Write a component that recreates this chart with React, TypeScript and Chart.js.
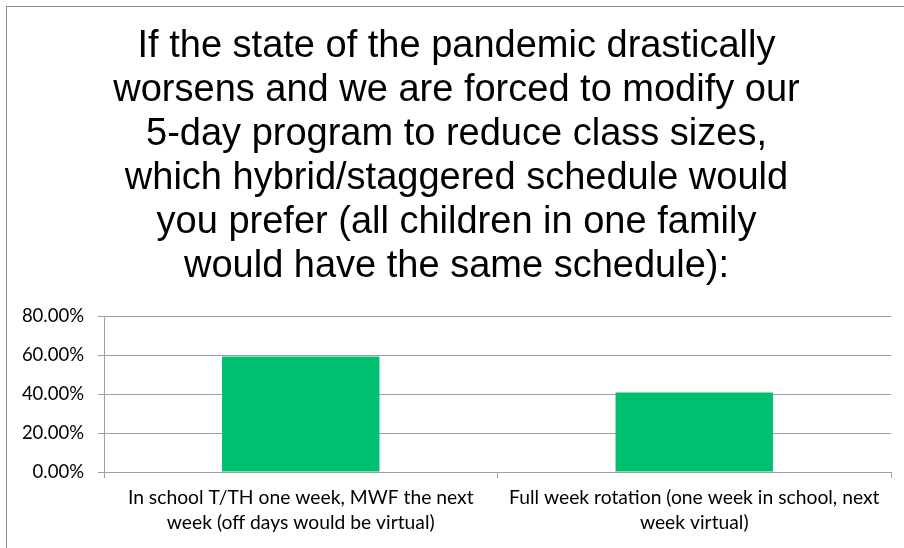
import React, { useEffect, useRef } from "react";
import { Chart, registerables } from "chart.js";

Chart.register(...registerables);

const titleLines = [
  "If the state of the pandemic drastically",
  "worsens and we are forced to modify our",
  "5-day program to reduce class sizes,",
  "which hybrid/staggered schedule would",
  "you prefer (all children in one family",
  "would have the same schedule):",
];

const categories: string[][] = [
  ["In school T/TH one week, MWF the next", "week (off days would be virtual)"],
  ["Full week rotation (one week in school, next", "week virtual)"],
];

const percentValues = [59.26, 40.74];

const yTickMax = 80;
const yTickStep = 20;

export default function App() {
  const canvasRef = useRef<HTMLCanvasElement | null>(null);

  useEffect(() => {
    const canvas = canvasRef.current;
    if (!canvas) return;
    const gridColor = "#a0a0a0";
    const chart = new Chart(canvas, {
      type: "bar",
      data: {
        labels: categories,
        datasets: [
          {
            data: percentValues,
            backgroundColor: "#00BF6F",
            borderWidth: 0,
            barPercentage: 0.4,
            categoryPercentage: 1,
          },
        ],
      },
      options: {
        responsive: false,
        animation: false,
        devicePixelRatio: 1,
        layout: { padding: { left: 22, right: 13, top: 0, bottom: 0 } },
        plugins: {
          legend: { display: false },
          tooltip: { enabled: false },
          title: {
            display: true,
            text: titleLines,
            color: "#000000",
            font: { family: "'Liberation Sans', Arial, sans-serif", size: 38, lineHeight: 44 / 38, weight: "normal" },
            padding: { top: 25, bottom: 27 },
          },
        },
        scales: {
          x: {
            grid: {
              display: true,
              drawOnChartArea: false,
              drawTicks: true,
              tickLength: 6,
              color: gridColor,
              offset: true,
            },
            border: { display: true, color: gridColor },
            ticks: {
              color: "#000000",
              font: { family: "Lato, sans-serif", size: 19.3, lineHeight: 24.5 / 19.3 },
              padding: 8,
              maxRotation: 0,
              autoSkip: false,
            },
            afterFit: (scale: any) => {
              scale.height = 76;
            },
          },
          y: {
            min: 0,
            max: yTickMax,
            grid: {
              color: gridColor,
              tickLength: 6,
              drawTicks: true,
            },
            border: { display: true, color: gridColor },
            ticks: {
              stepSize: yTickStep,
              color: "#000000",
              font: { family: "Lato, sans-serif", size: 18.5 },
              padding: 14,
              callback: (v: any) => Number(v).toFixed(2) + "%",
            },
            afterFit: (scale: any) => {
              scale.width = 82;
            },
          },
        },
      },
    });
    return () => chart.destroy();
  }, []);

  return (
    <div style={{ position: "absolute", left: 0, top: 0, width: 904, height: 548, background: "#ffffff", overflow: "hidden" }}>
      <div
        style={{
          position: "absolute",
          left: 6,
          top: 6,
          width: 920,
          height: 560,
          borderLeft: "1px solid #8c8c8c",
          borderTop: "1px solid #8c8c8c",
        }}
      />
      <canvas ref={canvasRef} width={904} height={548} style={{ position: "absolute", left: 0, top: 0 }} />
    </div>
  );
}
